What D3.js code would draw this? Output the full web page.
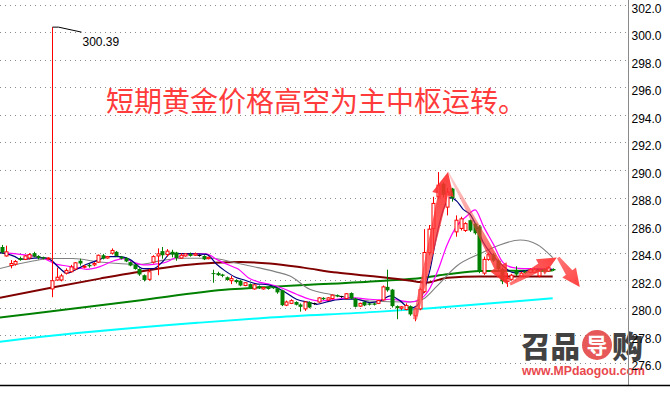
<!DOCTYPE html>
<html><head><meta charset="utf-8">
<script src="https://cdn.jsdelivr.net/npm/d3@7"></script>
<style>html,body{margin:0;padding:0;background:#fff;overflow:hidden}</style>
</head><body>
<svg id="c" width="670" height="400"></svg>
<script>
// ---- data ----
const opens  = [284.4,283.75,283.05,283.15,283.6,283.5,283.6,283.95,283.75,283.65,283.55,281.35,282.0,282.0,282.5,282.6,282.8,283.4,282.95,283.1,
283.1,283.3,283.8,283.6,283.95,284.05,283.7,283.6,283.3,283.1,282.8,282.35,282.05,283.3,283.75,284.1,283.85,284.05,284.0,283.6,
283.75,283.9,283.8,283.8,283.75,283.55,282.5,282.5,282.4,282.2,281.95,282.0,281.95,281.6,281.7,281.35,281.55,281.35,281.45,281.5,
281.4,281.25,280.17,280.3,280.4,280.22,279.9,280.4,280.3,280.4,280.7,280.55,280.65,280.9,280.8,280.65,281.05,280.65,280.1,280.4,
280.3,280.3,280.3,280.55,281.5,281.3,280.1,279.95,279.85,280.1,279.4,279.9,281.15,284.0,285.74,288.05,289.0,287.3,288.65,285.5,
285.75,285.6,286.35,286.1,285.9,282.5,283.5,283.85,283.4,282.8,281.9,282.05,282.65,282.3,282.65,282.55,282.55,282.3,282.8,282.65,282.8];
const highs  = [284.55,284.5,283.45,283.45,283.7,283.8,283.95,284.05,283.8,283.7,283.65,300.39,282.9,282.45,282.85,283.1,283.3,283.55,283.1,283.2,
283.3,283.85,283.9,283.75,284.3,284.1,283.75,283.65,283.35,283.15,282.85,282.4,282.8,283.8,284.3,284.4,284.25,284.2,284.05,283.95,
283.95,284.0,284.0,283.85,283.8,283.7,282.75,282.6,282.45,282.25,282.3,282.05,282.0,281.85,281.75,281.7,281.6,281.5,281.5,281.55,
281.45,281.3,280.5,280.6,280.45,280.3,280.45,280.45,280.35,280.75,280.75,280.75,280.95,280.95,280.85,281.05,281.1,280.7,280.35,280.45,
280.35,280.35,280.55,281.6,282.75,281.35,280.15,280.1,280.3,280.15,280.0,281.45,285.7,286.0,288.05,289.85,289.1,288.7,288.7,286.7,
286.6,286.2,286.4,286.15,286.0,283.7,283.98,283.95,283.5,282.9,282.5,282.45,283.0,282.6,282.7,282.85,282.9,282.8,282.85,283.0,282.85];
const lows   = [283.9,283.7,282.85,283.05,283.4,283.45,283.5,283.65,283.5,283.5,283.5,280.75,281.95,281.9,282.4,282.55,282.7,283.05,282.85,282.9,
283.0,283.25,283.5,283.55,283.85,283.7,283.5,283.3,283.0,282.75,282.3,281.9,281.95,283.2,282.35,283.55,283.7,283.65,283.4,283.55,
283.7,283.7,283.75,283.7,283.45,283.5,281.8,282.3,282.2,281.95,281.7,281.75,281.55,281.55,281.4,281.3,281.35,281.3,281.3,281.35,
281.0,280.1,280.1,280.25,280.15,279.7,279.75,279.95,280.2,280.35,280.55,280.5,280.6,280.75,280.7,280.6,280.6,280.0,280.05,280.1,
280.15,280.15,280.25,280.5,281.15,280.0,279.15,279.8,279.8,279.4,279.0,279.8,281.05,283.8,283.9,287.9,288.0,286.7,287.7,285.15,
285.6,285.5,285.5,285.3,282.5,282.37,283.4,283.3,282.6,281.7,281.5,281.95,282.3,282.25,282.45,282.5,282.5,282.2,282.55,282.6,282.65];
const closes = [284.0,284.05,283.2,283.35,283.45,283.75,283.85,283.7,283.6,283.55,283.6,281.95,282.2,282.3,282.7,282.95,283.25,283.2,283.0,283.0,
283.2,283.8,283.55,283.7,284.15,283.75,283.55,283.35,283.05,282.8,282.4,282.0,282.6,283.7,283.9,283.8,284.1,283.85,283.6,283.8,
283.9,283.75,283.9,283.8,283.5,283.65,282.45,282.35,282.3,282.0,282.1,281.85,281.6,281.8,281.45,281.65,281.4,281.45,281.35,281.4,
281.1,280.17,280.4,280.5,280.2,280.05,280.4,280.0,280.3,280.7,280.6,280.7,280.9,280.8,280.8,281.0,280.65,280.05,280.3,280.15,
280.2,280.2,280.5,281.5,281.25,280.1,279.95,280.05,280.15,279.5,279.9,281.3,284.0,285.7,287.57,288.9,288.2,288.4,287.95,286.35,
286.45,286.1,285.6,285.4,282.6,283.5,283.85,283.4,282.8,281.9,282.1,282.35,282.4,282.5,282.5,282.75,282.75,282.65,282.6,282.9,282.7];

const priceTicks = [276,278,280,282,284,286,288,290,292,294,296,298,300,302];
const titleText = "短期黄金价格高空为主中枢运转。";
const highLabelValue = 300.39;
const highLabelIndex = 11;

// moving averages: [candle index, price]
const maNavy = [[-0.4,283.99],[2.9,283.70],[4.0,283.50],[6.2,283.56],[9.1,283.63],[10.5,283.50],[12.7,282.83],[14.2,282.49],[16.3,282.78],[18.5,283.14],[21.4,283.5],[22.9,283.70],[25.8,283.70],[27.9,283.5],[30.8,282.83],[33,282.83],[35.2,283.38],[36.7,283.92],[40.3,283.92],[44.6,283.87],[46.8,283.14],[48.5,282.7],[50.8,282.22],[53,281.98],[55.2,281.74],[58.1,281.64],[61.3,281.20],[64.2,280.60],[67.1,280.36],[68.6,280.23],[71.5,280.47],[74.4,280.6],[77.3,280.6],[80.2,280.36],[82.4,280.47],[84.6,280.84],[86.7,280.5],[88.9,279.95],[90.4,280.11],[91.8,281.08],[93.3,282.78],[94.7,285.2],[96.2,287.14],[97.6,287.99],[99.1,287.74],[100.5,287.14],[102,286.77],[103.4,285.92],[104.9,284.72],[107.1,283.74],[109.2,283.02],[111.4,282.54],[113.6,282.65],[116.5,282.78],[120,282.78]];
const maMagenta = [[-0.4,283.99],[4,283.87],[6.9,283.74],[9.1,283.56],[12,283.14],[14.2,283.02],[16.3,282.9],[18.5,282.78],[21.4,282.97],[24.3,283.38],[26.5,283.56],[28.7,283.3],[30.8,283.1],[33,283.14],[35.9,283.31],[37.7,283.6],[38.8,283.7],[41.7,283.92],[44.6,283.9],[46.8,283.5],[49.7,283.05],[51.5,282.8],[53.7,282.17],[56,281.85],[58.4,281.69],[61.3,281.38],[64.2,280.96],[67.1,280.6],[69.3,280.47],[72.9,280.6],[75.8,280.72],[80.2,280.6],[82.4,280.55],[84.6,280.6],[87.5,280.47],[88.9,280.4],[91.1,280.6],[92.9,281.2],[95.1,282.78],[96.9,284.47],[99.1,285.92],[101.3,286.65],[103.1,287.1],[104.9,285.92],[107.1,284.59],[109.2,283.26],[111.4,282.9],[113.6,282.83],[116.5,282.83],[120,282.78]];
const maGray = [[-0.4,282.83],[6.8,283.38],[10.5,283.56],[15.5,283.56],[21.4,283.31],[30.1,283.14],[34.9,283.43],[39.9,283.58],[45.8,283.58],[50.8,283.26],[55.8,282.9],[59.5,282.61],[62.8,282.29],[67.1,281.32],[71.5,280.96],[76.5,280.65],[80.2,280.47],[88.9,280.4],[91.7,280.6],[94.8,281.56],[99.1,283.02],[104.2,283.92],[107.9,284.47],[112.9,284.91],[116.6,284.59],[120,283.63]];
const maMaroon = [[-0.4,280.7],[11,281.45],[21.4,282.1],[29,282.55],[39.5,283.07],[46.5,283.26],[52,283.31],[58.4,283.2],[65.7,282.9],[73,282.54],[80.2,282.29],[86.7,282.05],[90.4,281.88],[92.5,281.81],[97.1,282.17],[104,282.25],[120,282.25]];
const maGreen = [[-0.4,279.27],[29,280.47],[49.7,281.32],[58.4,281.5],[67,281.65],[82.4,281.93],[91.8,282.17],[97,282.41],[104.2,282.65],[120,282.7]];
const maCyan = [[-0.4,277.5],[5.4,277.74],[43.2,278.9],[58.4,279.27],[82.4,279.7],[93.3,279.95],[120,280.67]];

// drawn annotation arrows: [index, price] from -> to
const arrowFrom = [[90,279.14],[97.2,289.85],[110.7,281.69],[121.2,283.63]];
const arrowTo   = [[97.2,289.85],[110.3,281.62],[120.9,283.63],[125.9,281.49]];

// ---- drawing ----
const svg = d3.select("#c");
const W = 670, H = 400, plotRight = 628.5, plotBottom = 385;
const x = d3.scaleLinear().domain([0, opens.length - 1]).range([1.7, 552.7]);
const y = d3.scaleLinear().domain([276, 302]).range([362.5, 5]);

svg.append("rect").attr("width", W).attr("height", H).attr("fill", "#fff");

svg.append("defs").append("clipPath").attr("id", "plotclip")
  .append("rect").attr("x", 0).attr("y", 0).attr("width", plotRight).attr("height", plotBottom);

// grid
svg.append("g").selectAll("line").data(priceTicks).join("line")
  .attr("x1", 0).attr("x2", plotRight - 2)
  .attr("y1", d => Math.round(y(d)) + 0.5).attr("y2", d => Math.round(y(d)) + 0.5)
  .attr("stroke", "#8c8c8c").attr("stroke-width", 1).attr("stroke-dasharray", "1,4");

// logo watermark
const logo = svg.append("g").attr("opacity", 0.92);
logo.append("text").attr("x", 521).attr("y", 358).text("召品")
  .attr("font-family", "Noto Sans CJK SC").attr("font-weight", 900).attr("font-size", 29)
  .attr("fill", "#333").attr("textLength", 59).attr("lengthAdjust", "spacingAndGlyphs");
logo.append("circle").attr("cx", 597).attr("cy", 345).attr("r", 15).attr("fill", "#e64b4b");
logo.append("text").attr("x", 597).attr("y", 352.5).attr("text-anchor", "middle").text("导")
  .attr("font-family", "Noto Sans CJK SC").attr("font-weight", 700).attr("font-size", 21).attr("fill", "#fff");
logo.append("text").attr("x", 612).attr("y", 358).text("购")
  .attr("font-family", "Noto Sans CJK SC").attr("font-weight", 900).attr("font-size", 31)
  .attr("fill", "#333");
logo.append("text").attr("x", 522).attr("y", 375).text("www.MPdaogou.com")
  .attr("font-family", "Liberation Sans, Arial").attr("font-weight", 700).attr("font-size", 13.5)
  .attr("fill", "#e8383d").attr("textLength", 123).attr("lengthAdjust", "spacingAndGlyphs");

// moving averages
const plot = svg.append("g").attr("clip-path", "url(#plotclip)");
const line = d3.line().x(d => x(d[0])).y(d => y(d[1])).curve(d3.curveMonotoneX);
const maDefs = [
  [maCyan, "#00ffff", 2],
  [maGreen, "#008000", 2],
  [maMaroon, "#800000", 2],
  [maGray, "#808080", 1.1],
  [maMagenta, "#ff00ff", 1.2],
  [maNavy, "#000080", 1.2]
];
maDefs.forEach(([data, col, w]) => {
  plot.append("path").datum(data).attr("d", line)
    .attr("fill", "none").attr("stroke", col).attr("stroke-width", w).attr("stroke-linejoin", "round");
});

// candles
const idx = d3.range(opens.length);
const cg = plot.append("g");
idx.forEach(i => {
  const o = opens[i], h = highs[i], l = lows[i], c = closes[i];
  const cx = Math.round(x(i)) + 0.5;
  const up = c > o, flat = c === o;
  const col = flat ? "#000" : (up ? "#ff0000" : "#008000");
  cg.append("line").attr("x1", cx).attr("x2", cx).attr("y1", y(h)).attr("y2", y(l))
    .attr("stroke", col).attr("stroke-width", 1);
  const top = y(Math.max(o, c)), bot = y(Math.min(o, c));
  if (flat) {
    cg.append("line").attr("x1", cx - 2).attr("x2", cx + 2).attr("y1", Math.round(top) + 0.5).attr("y2", Math.round(top) + 0.5)
      .attr("stroke", col).attr("stroke-width", 1);
  } else if (up) {
    cg.append("rect").attr("x", cx - 1.5).attr("y", top).attr("width", 3).attr("height", Math.max(1, bot - top))
      .attr("fill", "#fff").attr("stroke", col).attr("stroke-width", 1);
  } else {
    cg.append("rect").attr("x", cx - 2).attr("y", top).attr("width", 4).attr("height", Math.max(1, bot - top))
      .attr("fill", col);
  }
});

// high marker
const hx = Math.round(x(highLabelIndex)) + 0.5, hy = y(highLabelValue);
svg.append("path").attr("d", `M${hx},${hy} h6 L${hx + 29},${hy + 5}`)
  .attr("fill", "none").attr("stroke", "#000").attr("stroke-width", 1);
svg.append("text").attr("x", hx + 30).attr("y", hy + 19).text(highLabelValue.toFixed(2))
  .attr("font-family", "Liberation Sans, Arial").attr("font-size", 12).attr("fill", "#000");

// arrows
const arrowSpec = [
  {wt: 4, wn: 10, hl: 23, hw: 22, o0: 0.7, o1: 0.9},
  {wt: 1.5, wn: 9, hl: 21, hw: 19, o0: 0.25, o1: 0.95},
  {wt: 3, wn: 8, hl: 19, hw: 18, o0: 0.75, o1: 0.9},
  {wt: 3, wn: 8, hl: 18, hw: 17, o0: 0.75, o1: 0.9}
];
const defs = svg.select("defs");
arrowFrom.forEach((f, k) => {
  const s = arrowSpec[k];
  const x1 = x(f[0]), y1 = y(f[1]), x2 = x(arrowTo[k][0]), y2 = y(arrowTo[k][1]);
  const L = Math.hypot(x2 - x1, y2 - y1), ux = (x2 - x1) / L, uy = (y2 - y1) / L;
  const nx = -uy, ny = ux;
  const mx = x2 - ux * s.hl, my = y2 - uy * s.hl;
  const pts = [
    [x1 + nx * s.wt / 2, y1 + ny * s.wt / 2],
    [mx + nx * s.wn / 2, my + ny * s.wn / 2],
    [mx + nx * s.hw / 2, my + ny * s.hw / 2],
    [x2, y2],
    [mx - nx * s.hw / 2, my - ny * s.hw / 2],
    [mx - nx * s.wn / 2, my - ny * s.wn / 2],
    [x1 - nx * s.wt / 2, y1 - ny * s.wt / 2]
  ];
  const gid = "ag" + k;
  const grad = defs.append("linearGradient").attr("id", gid).attr("gradientUnits", "userSpaceOnUse")
    .attr("x1", x1).attr("y1", y1).attr("x2", x2).attr("y2", y2);
  grad.append("stop").attr("offset", 0).attr("stop-color", "#ff4a4a").attr("stop-opacity", s.o0);
  grad.append("stop").attr("offset", 1).attr("stop-color", "#ff2a2a").attr("stop-opacity", s.o1);
  svg.append("path").attr("d", "M" + pts.map(p => p.join(",")).join("L") + "Z").attr("fill", `url(#${gid})`);
});

// title
svg.append("text").attr("x", 106).attr("y", 100).attr("dominant-baseline", "central")
  .text(titleText).attr("font-family", "Noto Sans CJK SC").attr("font-size", 28).attr("fill", "#ff3b3b");

// right price axis
const axisG = svg.append("g").attr("transform", `translate(${plotRight},0)`)
  .call(d3.axisRight(y).tickValues(priceTicks).tickFormat(d3.format(".1f")).tickSize(0).tickPadding(3));
axisG.select(".domain").remove();
axisG.selectAll("text").attr("y", 3.5).attr("font-family", "Liberation Sans, Arial").attr("font-size", 12).attr("fill", "#000");
svg.append("line").attr("x1", plotRight).attr("x2", plotRight).attr("y1", 0).attr("y2", plotBottom)
  .attr("stroke", "#8a8a8a").attr("stroke-width", 1);
svg.append("line").attr("x1", 0).attr("x2", W).attr("y1", plotBottom + 0.5).attr("y2", plotBottom + 0.5)
  .attr("stroke", "#000").attr("stroke-width", 1.5);
</script>
</body></html>
